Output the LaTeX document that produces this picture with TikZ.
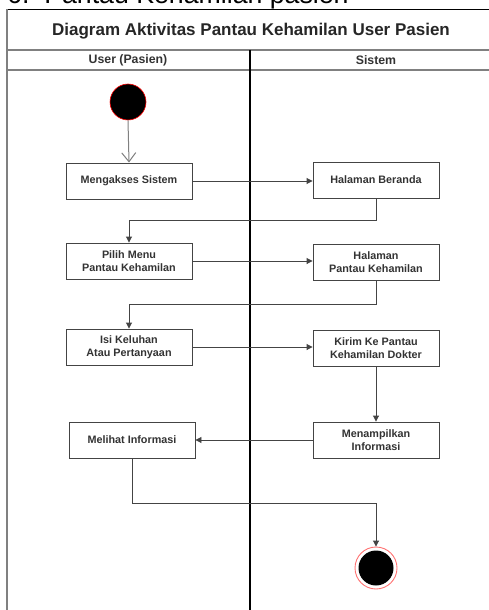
\documentclass[tikz,border=0pt]{standalone}
\usepackage{fontspec}
\setmainfont{Liberation Sans}
\usetikzlibrary{arrows.meta}
\definecolor{txt}{HTML}{333333}
\definecolor{bline}{HTML}{444444}
\definecolor{fline}{HTML}{808080}
\begin{document}
\begin{tikzpicture}[x=1pt,y=-1pt,
  act/.style={draw=bline, line width=0.9pt, fill=white, minimum width=126pt, minimum height=36pt,
    align=center, text=txt, font=\bfseries\fontsize{10.8}{13.3}\selectfont, inner sep=2pt},
  arr/.style={draw=bline, line width=0.9pt, -{Triangle[length=6pt,width=6pt]}},
  openarr/.style={draw=fline, line width=1pt, -{Straight Barb[length=9pt,width=14pt]}},
  frame/.style={draw=fline, line width=1.4pt},
]
\useasboundingbox (0,0) rectangle (489,610);
\fill[white] (0,0) rectangle (489,610);
% cut-off heading above the frame
\node[anchor=base west, inner sep=0pt, font=\fontsize{26.7}{30}\selectfont, text=black] (head) at (7,4) {6.\ \ Pantau Kehamilan pasien};
% frame
\draw[black, line width=1.1pt] (7,9.5) -- (505,9.5);
\draw[frame] (7,9.5) -- (7,612);
\draw[frame] (7,50) -- (505,50);
\draw[frame] (7,70) -- (505,70);
\draw[black, line width=1.1pt] (250,50) -- (250,612);
\node[font=\bfseries\fontsize{17}{20}\selectfont, text=black!85] (title) at (251,31) {Diagram Aktivitas Pantau Kehamilan User Pasien};
\node[font=\bfseries\fontsize{12.3}{14}\selectfont, text=txt] (lane1) at (128,60) {User (Pasien)};
\node[font=\bfseries\fontsize{12.3}{14}\selectfont, text=txt] (lane2) at (376,60) {Sistem};
% nodes
\node[circle, fill=black, draw=red, line width=0.6pt, minimum size=36pt, inner sep=0pt] (start) at (128,102) {};
\node[act] (b1) at (129,181) {Mengakses Sistem};
\node[act] (hb) at (376,180) {Halaman Beranda};
\node[act] (pm) at (129,261) {Pilih Menu\\Pantau Kehamilan};
\node[act] (hp) at (376,262) {Halaman\\Pantau Kehamilan};
\node[act] (ik) at (129,347) {Isi Keluhan\\Atau Pertanyaan};
\node[act] (kk) at (376,348) {Kirim Ke Pantau\\Kehamilan Dokter};
\node[act] (mi) at (376,440) {Menampilkan\\Informasi};
\node[act] (li) at (132,440) {Melihat Informasi};
\node[circle, draw=red!55, line width=0.9pt, minimum size=42pt, inner sep=0pt] (end) at (376,568) {};
\fill[black] (end.center) circle (17.5);
% connectors
\draw[openarr] (start.south) -- (b1.north);
\draw[arr] (b1.east) -- (b1.east -| hb.west);
\draw[arr] (hb.south) -- ++(0,22) -| (pm.north);
\draw[arr] (pm.east) -- (pm.east -| hp.west);
\draw[arr] (hp.south) -- ++(0,24) -| (ik.north);
\draw[arr] (ik.east) -- (ik.east -| kk.west);
\draw[arr] (kk.south) -- (mi.north);
\draw[arr] (mi.west) -- (li.east);
\draw[arr] (li.south) -- ++(0,45) -| (end.north);
\end{tikzpicture}
\end{document}
